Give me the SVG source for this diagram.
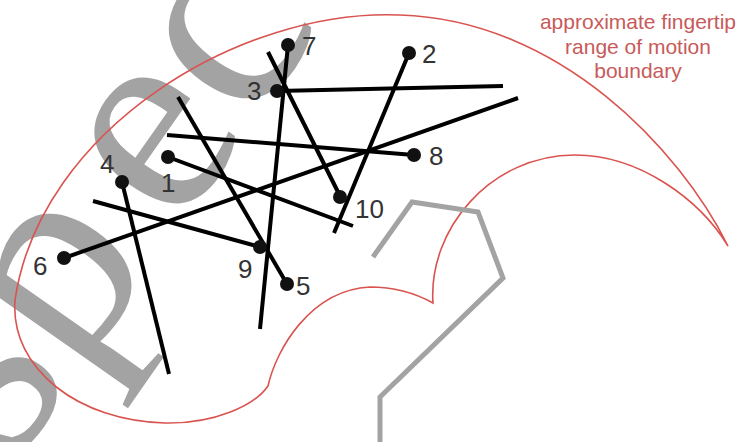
<svg xmlns="http://www.w3.org/2000/svg" width="740" height="442" viewBox="0 0 740 442">
<style>
.wm{font-family:"Liberation Serif","Times New Roman",serif;font-size:285px;fill:#a3a3a3}
.bnd{fill:none;stroke:#d9534f;stroke-width:1.6}
.arm{fill:none;stroke:#a3a3a3;stroke-width:5;stroke-linejoin:miter}
.ann{font-family:"Liberation Sans",Arial,sans-serif;font-size:21px;fill:#c85a5a;text-anchor:middle}
.edge{stroke:#000;stroke-width:4;stroke-linecap:butt}
.dot{fill:#111}
.lbl{font-family:"Liberation Sans",Arial,sans-serif;font-size:26px;fill:#333}
</style>
<rect width="740" height="442" fill="#fff"/>
<g id="watermark" transform="translate(12,468) rotate(-55)">
<text class="wm" x="0" y="0" dx="0 0 35 0">spec</text>
</g>
<g id="boundary">
<path class="bnd" d="M728,246 C680,150 560,20 400,15 C240,8 40,130 15,300 C10,370 80,421 165,423 C215,424 255,405 268,386 C276,350 310,290 370,287 C395,287 415,293 433,303 C428,230 490,155 575,155 C640,155 700,200 728,246 Z"/>
<text class="ann" x="638" y="29">approximate fingertip</text>
<text class="ann" x="638" y="54">range of motion</text>
<text class="ann" x="638" y="78">boundary</text>
</g>
<g id="arm">
<polyline class="arm" points="373,257 412,202 478,212 503,278 380,397 380,442"/>
</g>
<g id="connectors">
<line class="edge" x1="168" y1="157" x2="353" y2="226"/>
<line class="edge" x1="288" y1="45" x2="260" y2="329"/>
<line class="edge" x1="268" y1="52" x2="341" y2="198"/>
<line class="edge" x1="277" y1="91" x2="503" y2="86"/>
<line class="edge" x1="409" y1="53" x2="334" y2="233"/>
<line class="edge" x1="167" y1="135" x2="414" y2="155"/>
<line class="edge" x1="64" y1="258" x2="518" y2="98"/>
<line class="edge" x1="93" y1="201" x2="260" y2="247"/>
<line class="edge" x1="178" y1="97" x2="287" y2="284"/>
<line class="edge" x1="122" y1="182" x2="169" y2="374"/>
</g>
<g id="n1"><circle class="dot" cx="168" cy="157" r="7"/><text class="lbl" x="161" y="192">1</text></g>
<g id="n2"><circle class="dot" cx="409" cy="53" r="7"/><text class="lbl" x="422" y="63">2</text></g>
<g id="n3"><circle class="dot" cx="277" cy="91" r="7"/><text class="lbl" x="247" y="100">3</text></g>
<g id="n4"><circle class="dot" cx="122" cy="182" r="7"/><text class="lbl" x="100" y="173">4</text></g>
<g id="n5"><circle class="dot" cx="287" cy="284" r="7"/><text class="lbl" x="296" y="295">5</text></g>
<g id="n6"><circle class="dot" cx="64" cy="258" r="7"/><text class="lbl" x="33" y="275">6</text></g>
<g id="n7"><circle class="dot" cx="288" cy="45" r="7"/><text class="lbl" x="302" y="55">7</text></g>
<g id="n8"><circle class="dot" cx="414" cy="155" r="7"/><text class="lbl" x="429" y="165">8</text></g>
<g id="n9"><circle class="dot" cx="260" cy="247" r="7"/><text class="lbl" x="238" y="278">9</text></g>
<g id="n10"><circle class="dot" cx="340" cy="197" r="7"/><text class="lbl" x="355" y="218">10</text></g>
</svg>
